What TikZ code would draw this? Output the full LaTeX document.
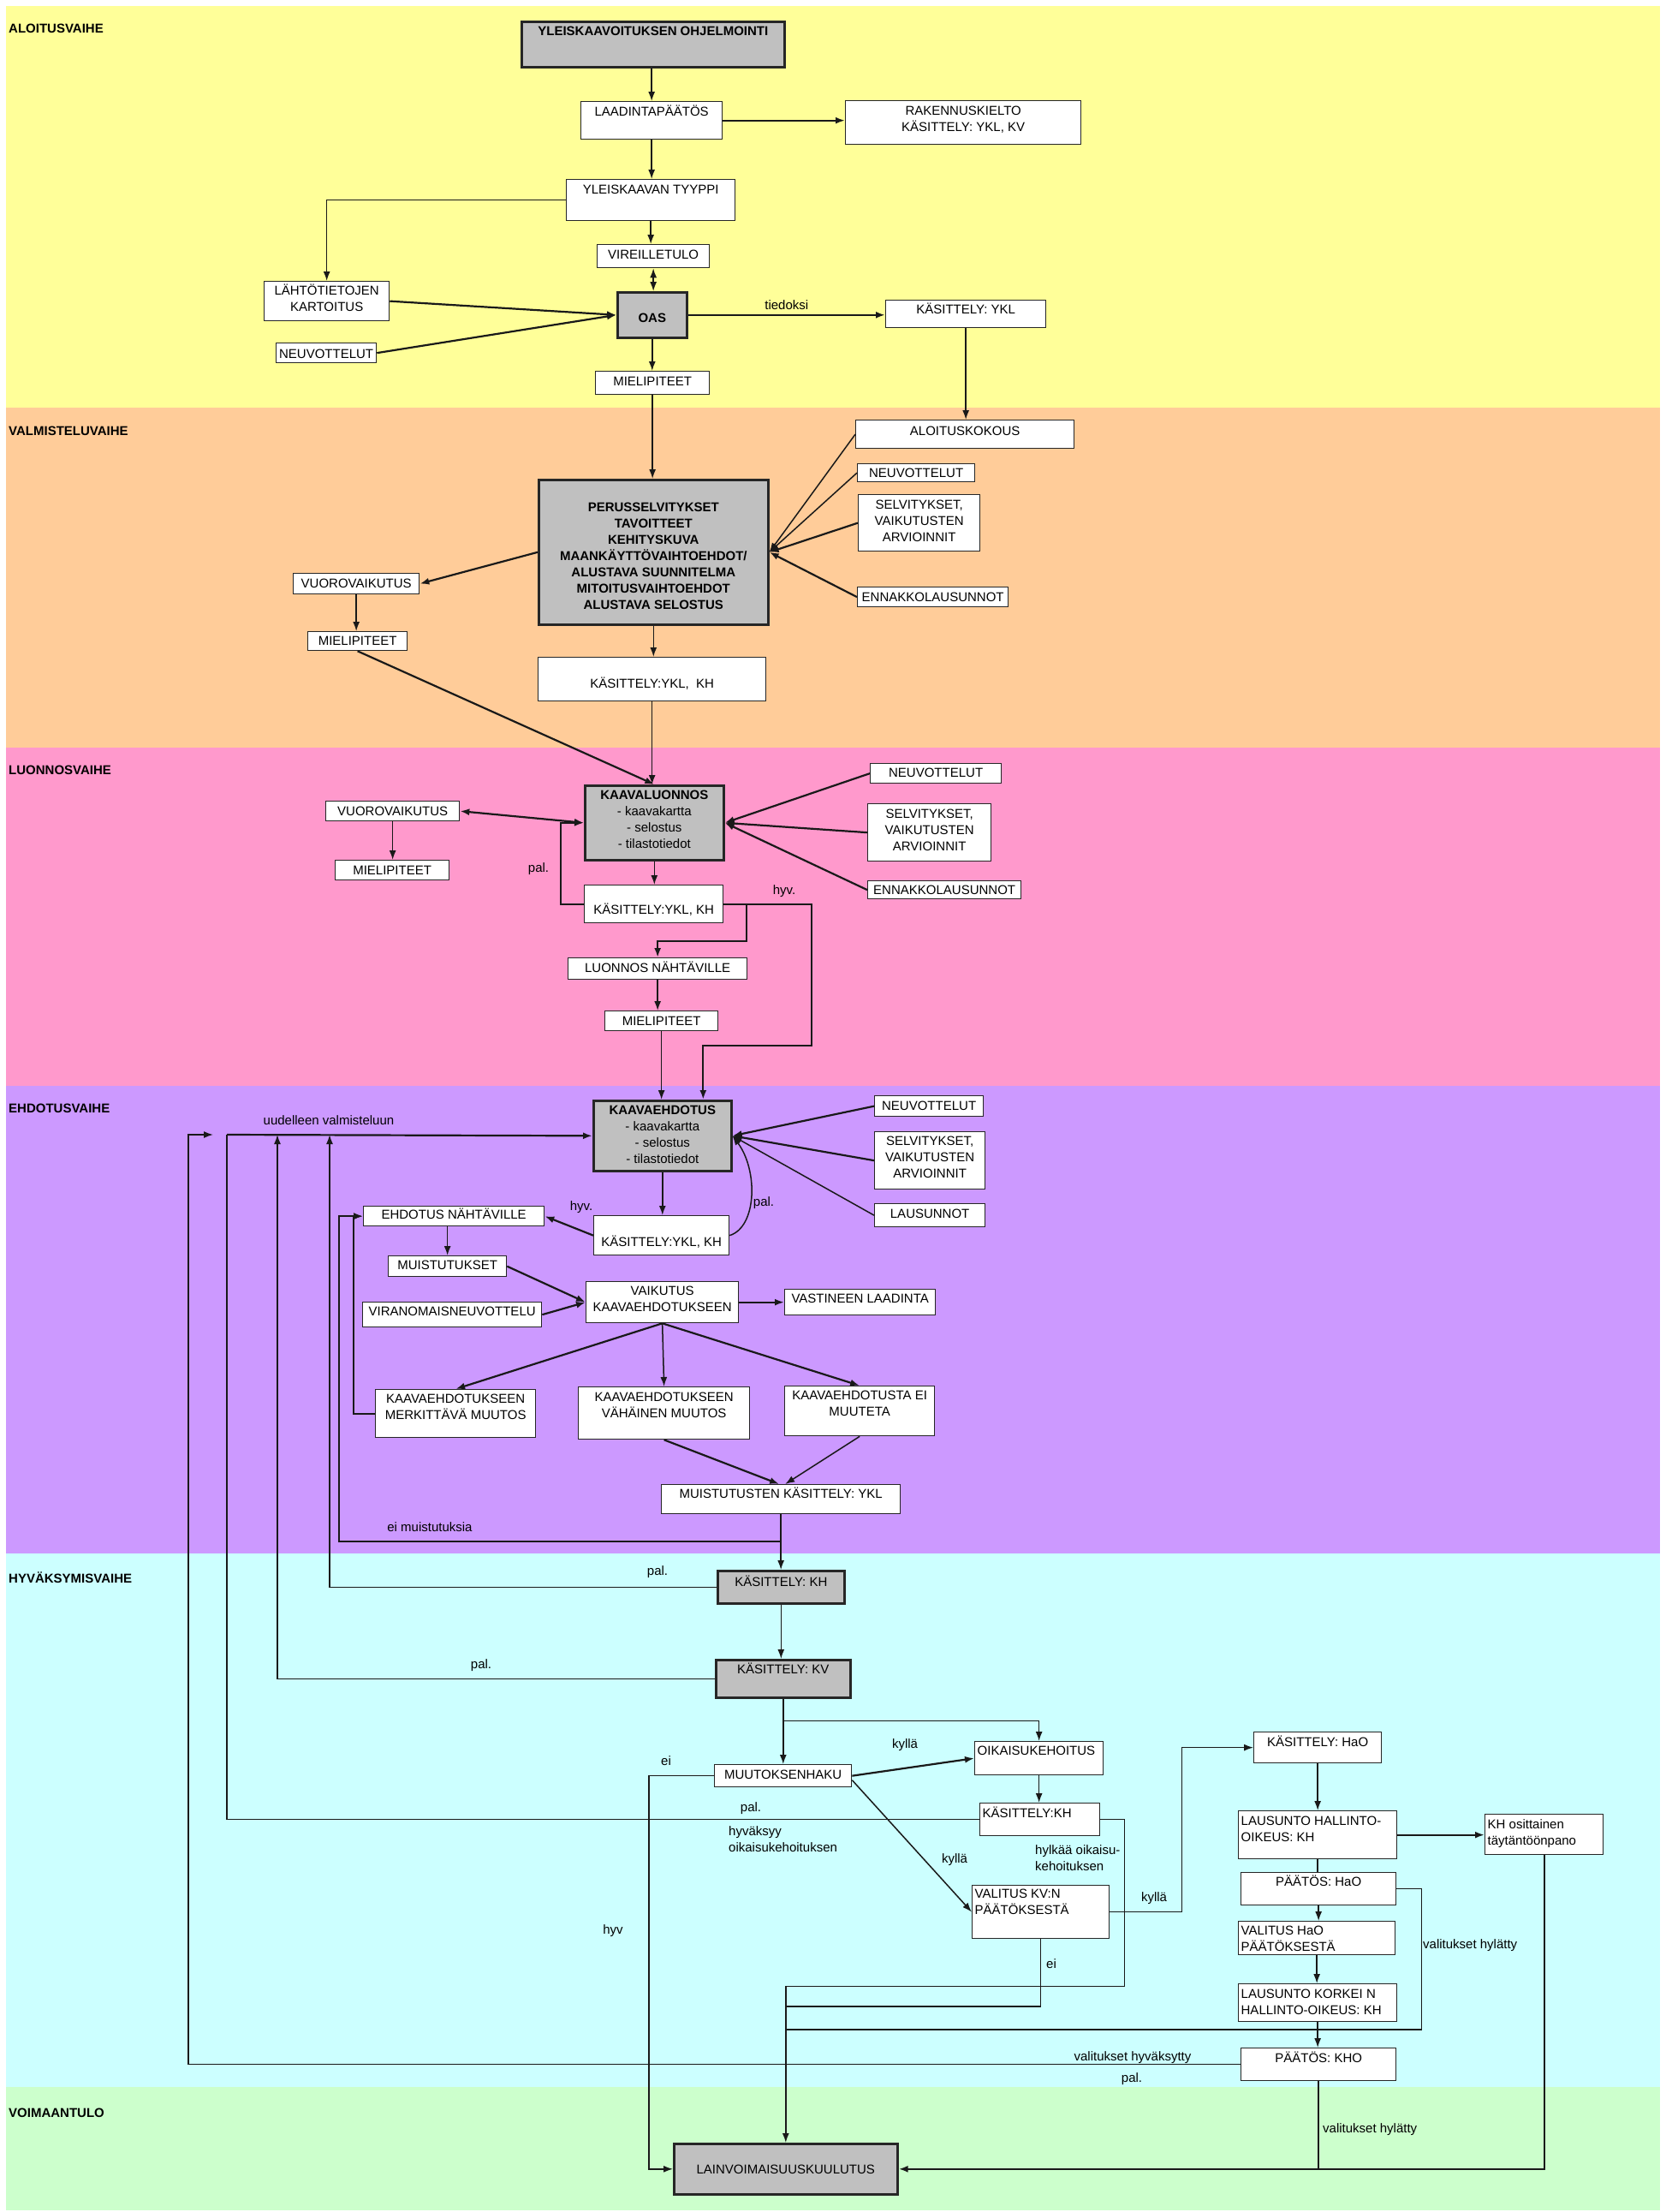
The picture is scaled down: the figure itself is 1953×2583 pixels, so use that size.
\documentclass[tikz,border=0pt]{standalone}
\usepackage{fontspec}
\setmainfont{Liberation Sans}
\usetikzlibrary{arrows.meta}
\definecolor{cYel}{HTML}{FFFF99}
\definecolor{cOra}{HTML}{FFCC99}
\definecolor{cPin}{HTML}{FF99CC}
\definecolor{cPur}{HTML}{CC99FF}
\definecolor{cCya}{HTML}{CCFFFF}
\definecolor{cGre}{HTML}{CCFFCC}
\definecolor{boxgrey}{HTML}{C0C0C0}
\newcommand{\bt}[4]{\parbox[c][#2pt][t]{#1pt}{\centering\rule{0pt}{#3pt}#4\par}}
\newcommand{\bl}[4]{\parbox[c][#2pt][t]{#1pt}{\raggedright\leftskip=3pt\rule{0pt}{#3pt}#4\par}}
\tikzset{
  every node/.style={font=\fontsize{15pt}{19pt}\selectfont},
  wbox/.style={draw=black!85, fill=white, line width=1.3pt, inner sep=0pt, anchor=north west},
  gbox/.style={draw=black!85, fill=boxgrey, line width=2.6pt, inner sep=0pt, anchor=north west},
  conn/.style={draw=black!90, line width=1.5pt},
  thick2/.style={line width=2.2pt},
  arr/.style={conn, -{Latex[length=11pt,width=8pt]}},
  darr/.style={conn, {Latex[length=11pt,width=8pt]}-{Latex[length=11pt,width=8pt]}},
  lbl/.style={inner sep=0pt},
  phase/.style={anchor=west, inner sep=0pt, font=\fontsize{15pt}{19pt}\selectfont\bfseries},
}
\begin{document}
\begin{tikzpicture}[x=1pt,y=-1pt]
\useasboundingbox (0,0) rectangle (1953,2583);
\fill[white] (0,0) rectangle (1953,2583);
% phase bands
\fill[cYel] (7,7) rectangle (1939,476);
\fill[cOra] (7,476) rectangle (1939,873);
\fill[cPin] (7,873) rectangle (1939,1268);
\fill[cPur] (7,1268) rectangle (1939,1814);
\fill[cCya] (7,1814) rectangle (1939,2437);
\fill[cGre] (7,2437) rectangle (1939,2581);
\node[phase] (p1) at (10,33) {ALOITUSVAIHE};
\node[phase] (p2) at (10,503) {VALMISTELUVAIHE};
\node[phase] (p3) at (10,899) {LUONNOSVAIHE};
\node[phase] (p4) at (10,1294) {EHDOTUSVAIHE};
\node[phase] (p5) at (10,1842) {HYVÄKSYMISVAIHE};
\node[phase] (p6) at (10,2467) {VOIMAANTULO};

% ---------- nodes: aloitusvaihe
\node[gbox] (yo) at (608,24) {\bt{307}{53}{16.4}{\bfseries YLEISKAAVOITUKSEN OHJELMOINTI}};
\node[wbox] (lp) at (678,118) {\bt{165}{44}{16.4}{LAADINTAPÄÄTÖS}};
\node[wbox] (rk) at (987,117) {\bt{275}{51}{16.4}{RAKENNUSKIELTO\\KÄSITTELY: YKL, KV}};
\node[wbox] (yt) at (661,209) {\bt{197}{48}{16.4}{YLEISKAAVAN TYYPPI}};
\node[wbox] (vt) at (697,285) {\bt{131}{27}{16.4}{VIREILLETULO}};
\node[wbox] (lk) at (308,328) {\bt{146}{46}{15.4}{LÄHTÖTIETOJEN\\KARTOITUS}};
\node[gbox] (oas) at (720,340) {\bt{81}{53}{35.4}{\bfseries OAS}};
\node[wbox] (ne1) at (322,400) {\bt{117}{23}{17.4}{NEUVOTTELUT}};
\node[wbox] (ky) at (1034,350) {\bt{187}{32}{15.4}{KÄSITTELY: YKL}};
\node[wbox] (mp1) at (695,433) {\bt{133}{27}{16.4}{MIELIPITEET}};
% ---------- valmisteluvaihe
\node[wbox] (ak) at (999,490) {\bt{255}{33}{17.4}{ALOITUSKOKOUS}};
\node[wbox] (ne2) at (1001,541) {\bt{137}{21}{15.4}{NEUVOTTELUT}};
\node[wbox] (se2) at (1002,577) {\bt{142}{66}{16.4}{SELVITYKSET,\\VAIKUTUSTEN\\ARVIOINNIT}};
\node[wbox] (en2) at (1001,685) {\bt{176}{23}{16.4}{ENNAKKOLAUSUNNOT}};
\node[gbox] (pe) at (628,559) {\bt{268}{169}{37.4}{\bfseries PERUSSELVITYKSET\\TAVOITTEET\\KEHITYSKUVA\\MAANKÄYTTÖVAIHTOEHDOT/\\ALUSTAVA SUUNNITELMA\\MITOITUSVAIHTOEHDOT\\ALUSTAVA SELOSTUS}};
\node[wbox] (vv2) at (342,669) {\bt{147}{24}{16.4}{VUOROVAIKUTUS}};
\node[wbox] (mp2) at (359,737) {\bt{116}{22}{15.4}{MIELIPITEET}};
\node[wbox] (kk2) at (628,767) {\bt{266}{51}{35.4}{KÄSITTELY:YKL,\ \ KH}};
% ---------- luonnosvaihe
\node[gbox] (kl) at (682,916) {\bt{162}{87}{16.4}{\textbf{KAAVALUONNOS}\\- kaavakartta\\- selostus\\- tilastotiedot}};
\node[wbox] (vv3) at (380,935) {\bt{156}{23}{16.4}{VUOROVAIKUTUS}};
\node[wbox] (mp3) at (391,1004) {\bt{133}{23}{16.4}{MIELIPITEET}};
\node[wbox] (ne3) at (1016,891) {\bt{153}{23}{15.4}{NEUVOTTELUT}};
\node[wbox] (se3) at (1013,938) {\bt{144}{67}{16.4}{SELVITYKSET,\\VAIKUTUSTEN\\ARVIOINNIT}};
\node[wbox] (en3) at (1013,1028) {\bt{179}{21}{15.4}{ENNAKKOLAUSUNNOT}};
\node[wbox] (kk3) at (682,1033) {\bt{162}{44}{33.4}{KÄSITTELY:YKL, KH}};
\node[wbox] (ln) at (663,1118) {\bt{209}{25}{16.4}{LUONNOS NÄHTÄVILLE}};
\node[wbox] (mp4) at (706,1180) {\bt{132}{23}{16.4}{MIELIPITEET}};
% ---------- ehdotusvaihe
\node[gbox] (ke) at (692,1284) {\bt{161}{82}{16.4}{\textbf{KAAVAEHDOTUS}\\- kaavakartta\\- selostus\\- tilastotiedot}};
\node[wbox] (ne4) at (1021,1279) {\bt{127}{24}{16.4}{NEUVOTTELUT}};
\node[wbox] (se4) at (1021,1321) {\bt{129}{67}{15.4}{SELVITYKSET,\\VAIKUTUSTEN\\ARVIOINNIT}};
\node[wbox] (la4) at (1021,1405) {\bt{129}{27}{16.4}{LAUSUNNOT}};
\node[wbox] (kk4) at (693,1419) {\bt{158}{46}{35.4}{KÄSITTELY:YKL, KH}};
\node[wbox] (en) at (424,1408) {\bt{211}{23}{14.4}{EHDOTUS NÄHTÄVILLE}};
\node[wbox] (mu) at (453,1466) {\bt{138}{24}{15.4}{MUISTUTUKSET}};
\node[wbox] (vi) at (423,1520) {\bt{209}{29}{15.4}{VIRANOMAISNEUVOTTELU}};
\node[wbox] (va) at (684,1496) {\bt{178}{48}{15.4}{VAIKUTUS\\KAAVAEHDOTUKSEEN}};
\node[wbox] (vl) at (916,1505) {\bt{176}{30}{15.4}{VASTINEEN LAADINTA}};
\node[wbox] (mm) at (438,1622) {\bt{187}{56}{15.4}{KAAVAEHDOTUKSEEN\\MERKITTÄVÄ MUUTOS}};
\node[wbox] (vm) at (675,1619) {\bt{200}{61}{16.4}{KAAVAEHDOTUKSEEN\\VÄHÄINEN MUUTOS}};
\node[wbox] (em) at (916,1618) {\bt{175}{58}{15.4}{KAAVAEHDOTUSTA EI\\MUUTETA}};
\node[wbox] (mk) at (772,1733) {\bt{279}{34}{15.4}{MUISTUTUSTEN KÄSITTELY: YKL}};
% ---------- hyväksymisvaihe
\node[gbox] (kh) at (837,1833) {\bt{148}{38}{18.4}{KÄSITTELY: KH}};
\node[gbox] (kv) at (835,1937) {\bt{157}{44}{16.4}{KÄSITTELY: KV}};
\node[wbox] (mh) at (834,2060) {\bt{160}{26}{16.4}{MUUTOKSENHAKU}};
\node[wbox] (ok) at (1138,2033) {\bl{150}{39}{15.4}{OIKAISUKEHOITUS}};
\node[wbox] (kh2) at (1144,2105) {\bl{140}{38}{16.4}{KÄSITTELY:KH}};
\node[wbox] (vk) at (1135,2201) {\bl{160}{62}{14.4}{VALITUS KV:N\\PÄÄTÖKSESTÄ}};
\node[wbox] (ho) at (1464,2022) {\bt{149}{36}{16.4}{KÄSITTELY: HaO}};
\node[wbox] (lh) at (1446,2114) {\bl{185}{56}{16.4}{LAUSUNTO HALLINTO-\\OIKEUS: KH}};
\node[wbox] (ko) at (1734,2118) {\bl{138}{47}{16.4}{KH osittainen\\täytäntöönpano}};
\node[wbox] (ph) at (1449,2186) {\bt{181}{38}{15.4}{PÄÄTÖS: HaO}};
\node[wbox] (vh) at (1446,2243) {\bl{183}{39}{15.4}{VALITUS HaO\\PÄÄTÖKSESTÄ}};
\node[wbox] (lk2) at (1446,2316) {\bl{185}{44}{16.4}{LAUSUNTO KORKEI N\\HALLINTO-OIKEUS: KH}};
\node[wbox] (pk) at (1449,2391) {\bt{181}{38}{16.4}{PÄÄTÖS: KHO}};
% ---------- voimaantulo
\node[gbox] (lv) at (786,2502) {\bt{261}{59}{35.4}{LAINVOIMAISUUSKUULUTUS}};

% ---------- connectors: aloitus
\draw[arr] (lp.north |- yo.south) -- (lp.north);
\draw[arr, thick2] (lp.east) -- (lp.east -| rk.west);
\draw[arr] (lp.south) -- (lp.south |- yt.north);
\draw[arr] (yt.south) -- (yt.south |- vt.north);
\draw[arr] (yt.west) -| (lk.north);
\draw[darr] (vt.south) -- (vt.south |- oas.north);
\draw[arr, thick2] (lk.east) -- (oas.west);
\draw[arr, thick2] (ne1.east) -- (oas.west);
\draw[arr, thick2] (oas.east) -- (oas.east -| ky.west) node[lbl, midway, above=5pt] (t1) {tiedoksi};
\draw[arr] (oas.south) -- (oas.south |- mp1.north);
\draw[arr] (mp1.south) -- (mp1.south |- pe.north);
\draw[arr] (ky.south) -- (ky.south |- ak.north);
% valmistelu
\draw[arr] (ak.west) -- (pe.east);
\draw[arr] (ne2.west) -- (pe.east);
\draw[arr, thick2] (se2.west) -- (pe.east);
\draw[arr, thick2] (en2.west) -- (pe.east);
\draw[arr, thick2] (pe.west) -- (vv2.east);
\draw[arr] (vv2.south) -- (vv2.south |- mp2.north);
\draw[arr] (pe.south) -- (pe.south |- kk2.north);
\draw[arr, thick2] (mp2.south) -- (kl.north);
\draw[arr] (kk2.south) -- (kk2.south |- kl.north);
% luonnos
\draw[darr, thick2] (vv3.east) -- (kl.west);
\draw[arr] (vv3.south) -- (vv3.south |- mp3.north);
\draw[arr, thick2] (ne3.west) -- (kl.east);
\draw[arr, thick2] (se3.west) -- (kl.east);
\draw[arr, thick2] (en3.west) -- (kl.east);
\draw[arr] (kl.south) -- (kl.south |- kk3.north);
\draw[arr, thick2] (kk3.west) -- ++(-27,0) |- (kl.west);
\node[lbl] (t2) at (629,1015) {pal.};
\draw[arr, thick2] (kk3.east) -- ++(103,0) -- ++(0,165) -| ([xshift=47.5pt]ke.north);
\node[lbl] (t3) at (916,1041) {hyv.};
\draw[arr, thick2] ([xshift=27pt]kk3.east) -- ++(0,43) -| (ln.north);
\draw[arr] (ln.south) -- (ln.south |- mp4.north);
\draw[arr] (mp4.south) -- (mp4.south |- ke.north);
% ehdotus
\draw[arr, thick2] (ne4.west) -- (ke.east);
\draw[arr, thick2] (se4.west) -- (ke.east);
\draw[arr] (la4.west) -- (ke.east);
\draw[arr] (ke.south) -- (ke.south |- kk4.north);
\draw[arr] (kk4.east) .. controls +(32,-10) and +(30,40) .. (ke.east);
\node[lbl] (t4) at (892,1405) {pal.};
\draw[arr, thick2] (kk4.west) -- (en.east);
\node[lbl] (t5) at (679,1410) {hyv.};
\draw[arr] (mu.north |- en.south) -- (mu.north);
\draw[arr, thick2] (mu.east) -- (va.west);
\draw[arr, thick2] (vi.east) -- (va.west);
\draw[arr, thick2] (va.east) -- (va.east -| vl.west);
\draw[arr, thick2] (va.south) -- (mm.north);
\draw[arr] (va.south) -- (vm.north);
\draw[arr, thick2] (va.south) -- (em.north);
\draw[arr, thick2] (mm.west) -- ++(-25,0) |- (en.west);
\draw[arr, thick2] (vm.south) -- ([xshift=-2pt]mk.north);
\draw[arr] (em.south) -- ([xshift=5pt]mk.north);
\draw[arr] (mk.south) -- (mk.south |- kh.north);
\coordinate (emj) at ([yshift=-32pt]mk.south);
\draw[arr, thick2] (emj) -- ++(-516,0) |- (en.west);
\node[lbl] (t6) at (502,1783) {ei muistutuksia};
% return lines
\coordinate (j1) at (220,1325);
\coordinate (j1e) at (249,1325);
\coordinate (j2) at (265,1325);
\coordinate (j3) at (324,1325);
\coordinate (j4) at (385,1325);
\draw[arr, thick2] (j2) -- (ke.west);
\draw[arr] (kh.west) -| (j4);
\draw[arr] (kv.west) -| (j3);
\draw[conn] (kh2.west) -| (j2);
\draw[arr] (pk.west) -| (j1) -- (j1e);
\node[lbl] (t7) at (384,1308) {uudelleen valmisteluun};
\node[lbl] (t8) at (768,1836) {pal.};
\node[lbl] (t9) at (562,1945) {pal.};
\node[lbl] (t10) at (877,2112) {pal.};
\node[lbl] (t11) at (1322,2428) {pal.};
\node[lbl] (t12) at (1323,2403) {valitukset hyväksytty};
% hyväksyminen
\draw[arr] (kh.south) -- (kh.south |- kv.north);
\draw[arr] (kv.south) -- (kv.south |- mh.north);
\coordinate (kvj) at ([yshift=-26pt]kv.south);
\draw[arr] (kvj) -| (ok.north);
\draw[arr] (mh.west) -- ++(-76,0) |- (lv.west);
\node[lbl] (t13) at (778,2056) {ei};
\node[lbl] (t14) at (716,2255) {hyv};
\draw[arr, thick2] (mh.east) -- (ok.west);
\node[lbl] (t15) at (1057,2038) {kyllä};
\draw[arr] ([yshift=-5pt]mh.east) -- (vk.west);
\node[lbl] (t16) at (1115,2172) {kyllä};
\node[lbl, align=left, anchor=north west] (t17) at (851,2132) {hyväksyy\\oikaisukehoituksen};
\draw[arr] (ok.south) -- (ok.south |- kh2.north);
\draw[arr] (kh2.east) -- ++(28,0) -- ++(0,195) -| (lv.north);
\node[lbl, align=left, anchor=north west] (t18) at (1209,2154) {hylkää oikaisu-\\kehoituksen};
\coordinate (m2) at ([yshift=159pt]lv.north);
\coordinate (m3) at ([yshift=132pt]lv.north);
\draw[conn] (vk.south) |- (m2);
\node[lbl] (t21) at (1228,2293) {ei};
\draw[arr] (vk.east) -- ++(84,0) |- (ho.west);
\node[lbl] (t22) at (1348,2217) {kyllä};
\draw[arr] (ho.south) -- (ho.south |- lh.north);
\draw[arr, thick2] (lh.east) -- (lh.east -| ko.west);
\draw[conn] (lh.south) -- (lh.south |- ph.north);
\draw[arr] (ph.south) -- (ph.south |- vh.north);
\draw[arr] (vh.south) -- (vh.south |- lk2.north);
\draw[arr] (lk2.south) -- (lk2.south |- pk.north);
\draw[conn] (ph.east) -- ++(29,0) |- (m3);
\node[lbl, anchor=west] (t19) at (1662,2272) {valitukset hylätty};
\draw[conn] (pk.south) -- (pk.south |- lv.east);
\node[lbl, anchor=west] (t20) at (1545,2487) {valitukset hylätty};
\draw[arr, thick2] (ko.south) |- (lv.east);
\end{tikzpicture}
\end{document}
